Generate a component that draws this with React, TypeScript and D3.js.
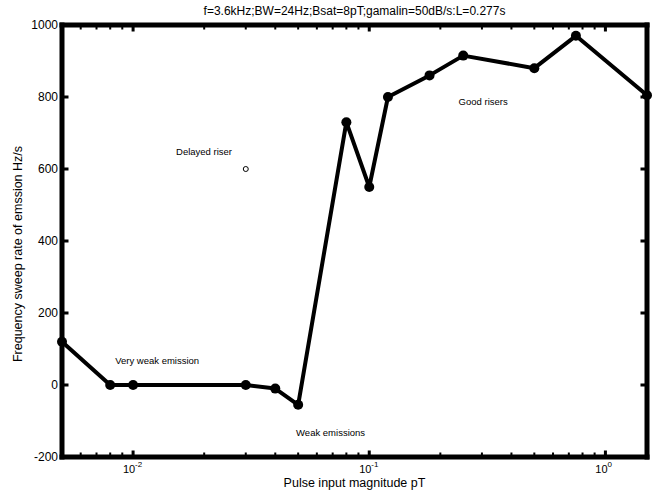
import React from "react";
import * as d3 from "d3";

const pulseMagnitude = [0.005, 0.008, 0.01, 0.03, 0.04, 0.05, 0.08, 0.1, 0.12, 0.18, 0.25, 0.5, 0.75, 1.5];
const sweepRate = [120, 0, 0, 0, -10, -55, 730, 550, 800, 860, 915, 880, 970, 805];
const delayedX = [0.03];
const delayedY = [600];
const yTicks = [-200, 0, 200, 400, 600, 800, 1000];
const xTicks = [0.01, 0.1, 1];
const xTickExp = ["-2", "-1", "0"];
const annotations = [
  { text: "Delayed riser", x: 0.0152, y: 638 },
  { text: "Very weak emission", x: 0.0084, y: 59 },
  { text: "Weak emissions", x: 0.049, y: -142 },
  { text: "Good risers", x: 0.239, y: 777 },
];

const W = 653, H = 490;
const M = { left: 62, right: 6, top: 25, bottom: 33 };

export default function App() {
  const x = d3.scaleLog().domain([0.005, 1.5]).range([M.left, W - M.right]);
  const y = d3.scaleLinear().domain([-200, 1000]).range([H - M.bottom, M.top]);
  const line = d3.line<number>().x((_, i) => x(pulseMagnitude[i])).y((d) => y(d));
  const minor: number[] = [];
  for (let e = -3; e <= 0; e++) for (let m = 2; m <= 9; m++) {
    const v = m * Math.pow(10, e);
    if (v > 0.005 && v < 1.5) minor.push(v);
  }
  const font = "Liberation Sans, Arial, sans-serif";
  const x0 = M.left, x1 = W - M.right, y0 = M.top, y1 = H - M.bottom;
  const bw = 5;
  return (
    <svg width={W} height={H} style={{ position: "absolute", left: 0, top: 0, background: "#fff" }} fontFamily={font}>
      <text x={(x0 + x1) / 2} y={15} fontSize={12} textAnchor="middle">f=3.6kHz;BW=24Hz;Bsat=8pT;gamalin=50dB/s:L=0.277s</text>
      {minor.map((v) => (
        <g key={"m" + v}>
          <rect x={x(v) - 1} y={y0} width={2} height={4.5} fill="#000" />
          <rect x={x(v) - 1} y={y1 - 4.5} width={2} height={4.5} fill="#000" />
        </g>
      ))}
      {xTicks.map((v, i) => (
        <g key={"x" + v}>
          <rect x={x(v) - 1.5} y={y0} width={3} height={6.5} fill="#000" />
          <rect x={x(v) - 1.5} y={y1 - 6.5} width={3} height={6.5} fill="#000" />
          <text x={x(v) - 4} y={y1 + 16} fontSize={11} textAnchor="middle">10</text>
          <text x={x(v) + 2} y={y1 + 10} fontSize={8} textAnchor="start">{xTickExp[i]}</text>
        </g>
      ))}
      {yTicks.map((v) => (
        <g key={"y" + v}>
          <rect x={x0} y={y(v) - 1.5} width={6.5} height={3} fill="#000" />
          <rect x={x1 - 6.5} y={y(v) - 1.5} width={6.5} height={3} fill="#000" />
          <text x={x0 - 4} y={y(v) + 4} fontSize={12} textAnchor="end">{v}</text>
        </g>
      ))}
      <rect x={x0 - bw / 2} y={y0 - bw / 2} width={x1 - x0 + bw} height={bw} fill="#000" />
      <rect x={x0 - bw / 2} y={y1 - bw / 2} width={x1 - x0 + bw} height={bw} fill="#000" />
      <rect x={x0 - bw / 2} y={y0 - bw / 2} width={bw} height={y1 - y0 + bw} fill="#000" />
      <rect x={x1 - bw / 2} y={y0 - bw / 2} width={bw} height={y1 - y0 + bw} fill="#000" />
      <path d={line(sweepRate) || ""} fill="none" stroke="#000" strokeWidth={4} strokeLinejoin="round" />
      {sweepRate.map((v, i) => (
        <circle key={i} cx={x(pulseMagnitude[i])} cy={y(v)} r={5} fill="#000" />
      ))}
      {delayedX.map((v, i) => (
        <circle key={"d" + i} cx={x(v)} cy={y(delayedY[i])} r={2.5} fill="#fff" stroke="#000" strokeWidth={1} />
      ))}
      {annotations.map((a) => (
        <text key={a.text} x={x(a.x)} y={y(a.y)} fontSize={9.5}>{a.text}</text>
      ))}
      <text x={(x0 + x1) / 2} y={H - 3} fontSize={12.5} textAnchor="middle">Pulse input magnitude pT</text>
      <text transform={`translate(22, 254) rotate(-90)`} fontSize={12.5} textAnchor="middle">Frequency sweep rate of emssion Hz/s</text>
    </svg>
  );
}
